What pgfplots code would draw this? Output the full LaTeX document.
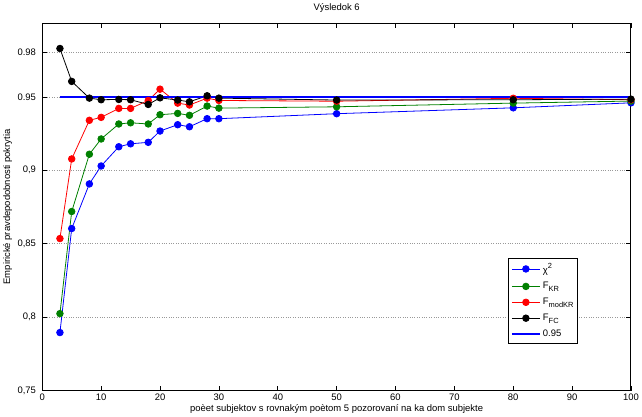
\documentclass[border=0pt]{standalone}
\usepackage{fontspec}
\setmainfont{Liberation Sans}
\usepackage{pgfplots}
\pgfplotsset{compat=1.18}

\definecolor{mgreen}{rgb}{0,0.5,0}

\newcommand*\lsub[1]{\raisebox{-0.6ex}{\fontsize{7.5}{8}\selectfont #1}}
\newcommand*\lsup[1]{\raisebox{0.9ex}{\fontsize{7.5}{8}\selectfont #1}}

\begin{document}
\fontsize{9.5}{11}\selectfont
\begin{tikzpicture}
\begin{axis}[
    scale only axis,
    width=590bp, height=368bp,
    xmin=0, xmax=100,
    ymin=0.75, ymax=1.0,
    xtick={0,10,...,100},
    ytick={0.75,0.8,0.85,0.9,0.95,0.98},
    yticklabels={0{,}75,0{,}8,0{,}85,0{,}9,0.95,0.98},
    /pgf/number format/assume math mode=true,
    ticklabel style={font=\fontsize{9.5}{11}\selectfont},
    yticklabel style={xshift=-3bp},
    tick align=inside,
    major tick length=5bp,
    tick style={black, line width=0.6pt},
    axis line style={line width=1pt},
    ymajorgrids,
    major grid style={dotted, gray!80, line width=0.5pt},
    title={Výsledok 6},
    title style={font=\fontsize{9.5}{11}\selectfont, yshift=2bp},
    xlabel={poèet subjektov s rovnakým poètom 5 pozorovaní na ka dom subjekte},
    ylabel={Empirické pravdepodobnosti pokrytia},
    label style={font=\fontsize{9.5}{11}\selectfont},
    xlabel style={yshift=3bp},
    ylabel style={yshift=-1bp},
    every axis plot/.append style={line width=0.8pt},
    mark options={solid},
    legend style={
        at={(0.910,0.128)}, anchor=south east,
        draw=black, line width=0.9pt,
        font=\fontsize{9.5}{11}\selectfont,
        row sep=4bp, inner xsep=2bp, inner ysep=3bp,
        cells={anchor=west}
    },
    legend image code/.code={
        \draw[mark repeat=2, mark phase=2]
            plot coordinates {(0cm,0cm) (0.5cm,0cm) (1cm,0cm)};
    },
]
% chi^2
\addplot[blue, mark=*, mark size=3.3bp] coordinates {
  (3,0.7895) (5,0.8603) (8,0.8907) (10,0.9029) (13,0.9160) (15,0.9180)
  (18,0.9190) (20,0.9267) (23,0.9310) (25,0.9296) (28,0.9351) (30,0.9351)
  (50,0.9385) (80,0.9425) (100,0.9459)
};
% F_KR
\addplot[mgreen, mark=*, mark size=3.3bp] coordinates {
  (3,0.8024) (5,0.8719) (8,0.9109) (10,0.9213) (13,0.9315) (15,0.9323)
  (18,0.9315) (20,0.9378) (23,0.9387) (25,0.9374) (28,0.9437) (30,0.9423)
  (50,0.9432) (80,0.9457) (100,0.9471)
};
% F_modKR
\addplot[red, mark=*, mark size=3.3bp] coordinates {
  (3,0.8535) (5,0.9077) (8,0.9340) (10,0.9360) (13,0.9421) (15,0.9421)
  (18,0.9475) (20,0.9552) (23,0.9457) (25,0.9444) (28,0.9491) (30,0.9475)
  (50,0.9470) (80,0.9490) (100,0.9480)
};
% F_FC
\addplot[black, mark=*, mark size=3.3bp] coordinates {
  (3,0.9829) (5,0.9605) (8,0.9491) (10,0.9480) (13,0.9482) (15,0.9480)
  (18,0.9448) (20,0.9493) (23,0.9478) (25,0.9466) (28,0.9507) (30,0.9491)
  (50,0.9478) (80,0.9480) (100,0.9484)
};
% reference level
\addplot[blue, line width=1.8pt, no marks] coordinates {
  (3,0.95) (100,0.95)
};
\legend{χ\lsup{2}, F\lsub{KR}, F\lsub{modKR}, F\lsub{FC}, 0.95}
\end{axis}
\end{tikzpicture}
\end{document}
